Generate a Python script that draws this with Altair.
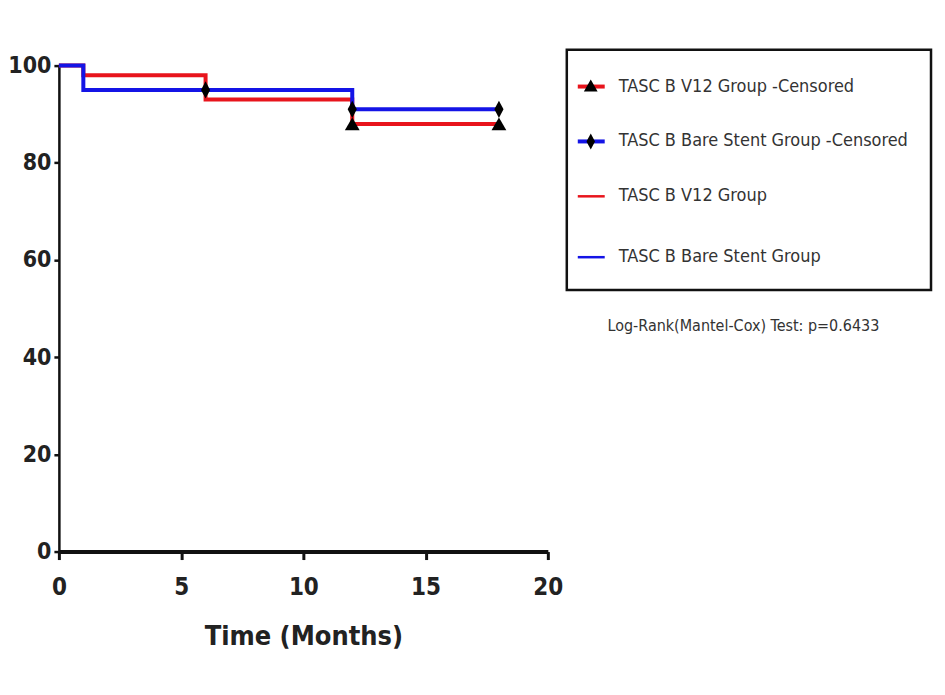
import altair as alt
import pandas as pd

# Kaplan-Meier step data (Time in months, percent survival)
red_time = [0, 1, 6, 12, 18]
red_surv = [100, 98, 93, 88, 88]
blue_time = [0, 1, 12, 18]
blue_surv = [100, 95, 91, 91]

# Censored observations
cens_blue_time = [6, 12, 18]
cens_blue_surv = [95, 91, 91]
cens_red_time = [12, 18]
cens_red_surv = [88, 88]

legend_labels = [
    "TASC B V12 Group -Censored",
    "TASC B Bare Stent Group -Censored",
    "TASC B V12 Group",
    "TASC B Bare Stent Group",
]
pvalue_text = "Log-Rank(Mantel-Cox) Test: p=0.6433"
x_ticks = [0, 5, 10, 15, 20]
y_ticks = [0, 20, 40, 60, 80, 100]

FONT = "DejaVu Sans Condensed, Liberation Sans Narrow, Arial Narrow, Liberation Sans, sans-serif"
RED = "#e8141c"
BLUE = "#1414e6"
DIAMOND = "M0,-1.4L0.75,0L0,1.4L-0.75,0Z"

red_df = pd.DataFrame({"t": red_time, "s": red_surv})
blue_df = pd.DataFrame({"t": blue_time, "s": blue_surv})
cb_df = pd.DataFrame({"t": cens_blue_time, "s": cens_blue_surv})
cr_df = pd.DataFrame({"t": cens_red_time, "s": cens_red_surv})

xs = alt.Scale(domain=[0, 20], nice=False, zero=False)
ys = alt.Scale(domain=[0, 100], nice=False)

x_axis = alt.Axis(values=x_ticks, title="Time (Months)", grid=False,
                  labelFontSize=24, labelFont=FONT, labelFontWeight="bold",
                  labelColor="#222", titleFont=FONT, titleFontSize=27,
                  titleFontWeight="bold", titleColor="#222", titlePadding=24,
                  domainColor="#111", domainWidth=4, tickColor="#111",
                  tickWidth=3, tickSize=8, labelPadding=16, labelFlush=False)
y_axis = alt.Axis(values=y_ticks, title=None, grid=False,
                  labelFontSize=23, labelFont=FONT, labelFontWeight="bold",
                  labelColor="#222", domainColor="#111", domainWidth=2.5,
                  tickColor="#111", tickWidth=2.5, tickSize=5, labelPadding=3)

base_x = alt.X("t:Q", scale=xs, axis=x_axis)
base_y = alt.Y("s:Q", scale=ys, axis=y_axis)

red_line = alt.Chart(red_df).mark_line(
    interpolate="step-after", color=RED, strokeWidth=4
).encode(x=base_x, y=base_y)
blue_line = alt.Chart(blue_df).mark_line(
    interpolate="step-after", color=BLUE, strokeWidth=4
).encode(x="t:Q", y="s:Q")
cens_red = alt.Chart(cr_df).mark_point(
    shape="triangle-up", filled=True, color="#000", size=220, opacity=1
).encode(x="t:Q", y="s:Q")
cens_blue = alt.Chart(cb_df).mark_point(
    shape=DIAMOND, filled=True, color="#000", size=150, opacity=1
).encode(x="t:Q", y="s:Q")

# Legend box (pixel positions relative to plot area)
box = alt.Chart(pd.DataFrame({"a": [0]})).mark_rect(
    fill="white", stroke="#111", strokeWidth=2.5
).encode(x=alt.value(509), x2=alt.value(874), y=alt.value(-16), y2=alt.value(225))

row_y = [21, 76, 131, 192]
legend_layers = []
leg_colors = [RED, BLUE, RED, BLUE]
for i, lab in enumerate(legend_labels):
    d = pd.DataFrame({"label": [lab]})
    legend_layers.append(
        alt.Chart(d).mark_rule(color=leg_colors[i], strokeWidth=4 if i < 2 else 2.5).encode(
            x=alt.value(520), x2=alt.value(547), y=alt.value(row_y[i]))
    )
    if i == 0:
        legend_layers.append(
            alt.Chart(d).mark_point(shape="triangle-up", filled=True, color="#000",
                                    size=190, opacity=1).encode(
                x=alt.value(533), y=alt.value(row_y[i] - 1)))
    if i == 1:
        legend_layers.append(
            alt.Chart(d).mark_point(shape=DIAMOND, filled=True,
                                    color="#000", size=130, opacity=1).encode(
                x=alt.value(533), y=alt.value(row_y[i])))
    legend_layers.append(
        alt.Chart(d).mark_text(align="left", baseline="middle", font=FONT,
                               fontSize=18, color="#333").encode(
            x=alt.value(561), y=alt.value(row_y[i]), text="label:N")
    )

pval = alt.Chart(pd.DataFrame({"label": [pvalue_text]})).mark_text(
    align="center", baseline="middle", font=FONT, fontSize=16, color="#333"
).encode(x=alt.value(686), y=alt.value(261), text="label:N")

chart = alt.layer(
    red_line, blue_line, cens_red, cens_blue, box, *legend_layers, pval
).properties(
    width=490, height=487,
    background="white",
    autosize=alt.AutoSizeParams(type="none"),
    padding={"left": 51, "top": 57, "right": 390, "bottom": 130},
).configure_view(strokeWidth=0, stroke="transparent")

chart.save("out.html", embed_options={"renderer": "svg", "actions": False})
